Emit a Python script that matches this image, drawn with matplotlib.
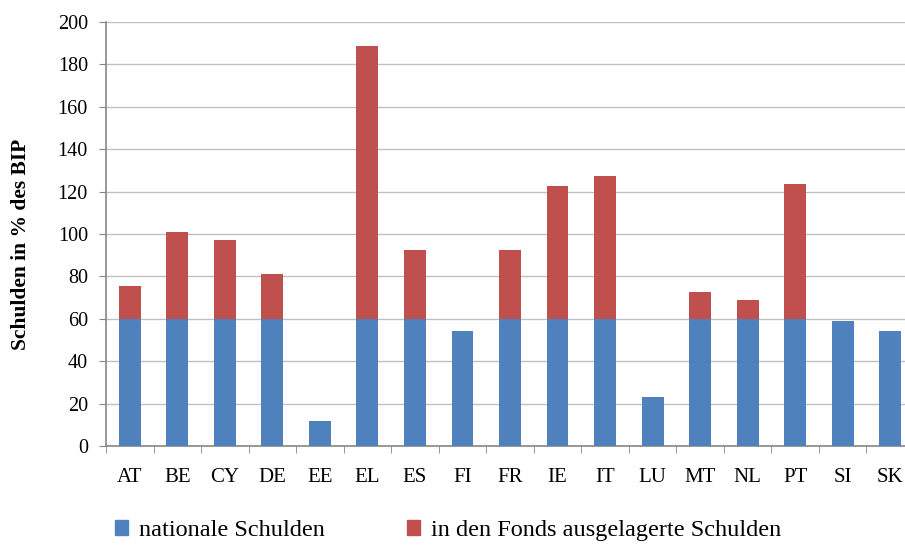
import numpy as np
import matplotlib.pyplot as plt
from matplotlib.patches import Patch

countries = ['AT', 'BE', 'CY', 'DE', 'EE', 'EL', 'ES', 'FI', 'FR',
             'IE', 'IT', 'LU', 'MT', 'NL', 'PT', 'SI', 'SK']
nationale = [60, 60, 60, 60, 12, 60, 60, 54.3, 60,
             60, 60, 23.2, 60, 60, 60, 59.1, 54.3]
ausgelagert = [15.6, 41, 37.2, 21.2, 0, 128.7, 32.6, 0, 32.6,
               62.7, 67.4, 0, 12.7, 9, 63.6, 0, 0]
legend_labels = ['nationale Schulden', 'in den Fonds ausgelagerte Schulden']

blue = '#4F81BD'
red = '#C0504D'

plt.rcParams['font.family'] = ['Liberation Serif', 'DejaVu Serif']

fig = plt.figure(figsize=(9.05, 5.45), dpi=100)
ax = fig.add_axes([106 / 905, 1 - 446 / 545, 808 / 905, 424 / 545])

x = np.arange(len(countries))
ax.bar(x, nationale, width=0.46, color=blue, zorder=3)
ax.bar(x, ausgelagert, width=0.46, bottom=nationale, color=red, zorder=3)

ax.set_xlim(-0.5, len(countries) - 0.5)
ax.set_ylim(0, 200)
ax.set_yticks(range(0, 201, 20))
ax.tick_params(axis='y', labelsize=14.5, length=5, color='#868686', pad=8)

ax.set_xticks(x)
ax.set_xticklabels(countries, fontsize=15)
ax.set_xticks(np.arange(-0.5, len(countries), 1), minor=True)
ax.tick_params(axis='x', which='major', length=0, pad=16)
ax.tick_params(axis='x', which='minor', length=5, color='#868686')

ax.grid(axis='y', color='#c0c0c0', linewidth=1, zorder=0)
for s in ['top', 'right']:
    ax.spines[s].set_visible(False)
for s in ['left', 'bottom']:
    ax.spines[s].set_color('#868686')
    ax.spines[s].set_linewidth(1.2)

ax.set_ylabel('Schulden in % des BIP', fontsize=15.5, fontweight='bold')
ax.yaxis.set_label_coords(-0.093, 0.476)

# two legend entries, placed separately like in the original
for color, label, xpos in [(blue, legend_labels[0], 115 / 905),
                           (red, legend_labels[1], 407 / 905)]:
    fig.legend([Patch(color=color)], [label],
               loc='center left', bbox_to_anchor=(xpos, 0.027), frameon=False,
               fontsize=17.5, handlelength=0.55, handleheight=0.55,
               handletextpad=0.45, borderpad=0, borderaxespad=0)

fig.savefig('out.png', dpi=100)
